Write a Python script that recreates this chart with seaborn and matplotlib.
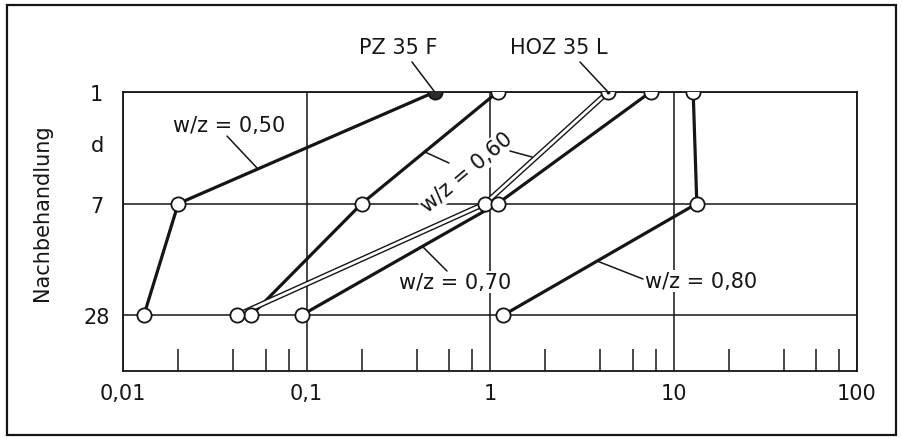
import numpy as np
import pandas as pd
import matplotlib
matplotlib.use("Agg")
import matplotlib.pyplot as plt
import matplotlib.ticker as mticker
from matplotlib.patches import Rectangle
import seaborn as sns

# ── Data ───────────────────────────────────────────────────────────────────
days = [1, 7, 28]                       # Nachbehandlung (d)
day_labels = ["1", "7", "28"]
x_ticks = [0.01, 0.1, 1, 10, 100]
x_tick_labels = ["0,01", "0,1", "1", "10", "100"]

pz35f_050 = [0.5, 0.02, 0.013]          # PZ 35 F, w/z = 0,50
wz_060 = [1.1, 0.2, 0.05]
hoz35l = [4.4, 0.94, 0.042]             # HOZ 35 L
wz_070 = [7.5, 1.1, 0.094]
wz_080 = [12.8, 13.4, 1.18]

INK = "#151515"
FONT = ["DejaVu Sans"]
FS = 15

sns.set_style("white")
plt.rcParams["font.family"] = FONT

pos = list(range(len(days)))

fig = plt.figure(figsize=(9.02, 4.39), dpi=100)
ax = fig.add_axes([123 / 902, 1 - 372 / 439, 734 / 902, 279 / 439])

# ── Lines ──────────────────────────────────────────────────────────────────
for series in (pz35f_050, wz_060, wz_070, wz_080):
    sns.lineplot(x=series, y=pos, ax=ax, sort=False, estimator=None,
                 color=INK, linewidth=2.3, zorder=3)
# double line for HOZ 35 L
sns.lineplot(x=hoz35l, y=pos, ax=ax, sort=False, estimator=None,
             color=INK, linewidth=4.0, zorder=3)
sns.lineplot(x=hoz35l, y=pos, ax=ax, sort=False, estimator=None,
             color="white", linewidth=2.0, zorder=3.1)

# ── Markers ────────────────────────────────────────────────────────────────
open_x = pz35f_050[1:] + wz_060 + hoz35l + wz_070 + wz_080
open_y = pos[1:] + pos + pos + pos + pos
sns.scatterplot(x=open_x, y=open_y, ax=ax, s=105, marker="o",
                facecolor="white", edgecolor=INK, linewidth=1.3, zorder=5)
sns.scatterplot(x=pz35f_050[:1], y=pos[:1], ax=ax, s=105, marker="o",
                facecolor="#2a2a2a", edgecolor=INK, linewidth=1.3, zorder=6)
sns.scatterplot(x=hoz35l[:1], y=pos[:1], ax=ax, s=8, marker="o",
                facecolor=INK, edgecolor=INK, linewidth=0, zorder=6)

# ── Axes ───────────────────────────────────────────────────────────────────
ax.set_xscale("log")
ax.set_xlim(0.01, 100)
ax.set_ylim(2.5, 0)
ax.set_xticks(x_ticks)
ax.set_xticklabels(x_tick_labels)
ax.xaxis.set_minor_locator(mticker.LogLocator(base=10, subs=[2, 4, 6, 8]))
ax.xaxis.set_minor_formatter(mticker.NullFormatter())
ax.set_yticks(pos)
ax.set_yticklabels(day_labels)
for lab in ax.get_yticklabels():
    lab.set_horizontalalignment("center")

ax.grid(which="major", color=INK, linewidth=1.1, zorder=1)
ax.set_axisbelow(True)
ax.tick_params(which="major", length=0, labelsize=FS, colors=INK)
ax.tick_params(axis="x", which="major", pad=9)
ax.tick_params(axis="y", which="major", pad=19)
ax.tick_params(axis="x", which="minor", direction="in", length=16,
               width=1.1, color=INK, bottom=True, top=False)
for sp in ax.spines.values():
    sp.set_color(INK)
    sp.set_linewidth(1.3)

ax.set_xlabel("")
ax.set_ylabel("Nachbehandlung", fontsize=FS, color=INK)
ax.yaxis.set_label_coords(-0.0967, 0.57)
ax.text(-0.0354, 0.81, "d", transform=ax.transAxes, ha="center", va="center",
        fontsize=FS, color=INK)

# ── Labels with leader lines ───────────────────────────────────────────────
box = dict(facecolor="white", edgecolor="none", pad=1)
leader = dict(arrowstyle="-", color=INK, linewidth=1.1, shrinkA=0, shrinkB=0)

def label(txt, xy, rot=0):
    ax.text(xy[0], xy[1], txt, transform=ax.transAxes, ha="center",
            va="center", fontsize=FS, color=INK, rotation=rot,
            bbox=box, zorder=4, clip_on=False)

def lead(a, b, coords="axes fraction"):
    ax.annotate("", xy=b, xycoords=coords, xytext=a,
                textcoords="axes fraction", arrowprops=leader,
                zorder=4, annotation_clip=False)

label("w/z = 0,50", (0.1444, 0.882))
lead((0.1417, 0.842), (0.1826, 0.7276))

label("w/z = 0,60", (0.4687, 0.7133), rot=40)
lead((0.4441, 0.7455), (0.4114, 0.785))
lead((0.5272, 0.7885), (0.5572, 0.767))

label("w/z = 0,70", (0.4523, 0.319))
lead((0.4414, 0.3584), (0.4087, 0.4444))

label("w/z = 0,80", (0.7875, 0.3226))
lead((0.7084, 0.3297), (0.6458, 0.3943))

label("PZ 35 F", (0.3747, 1.1613))
lead((0.3937, 1.1075), (pz35f_050[0], pos[0]), coords="data")

label("HOZ 35 L", (0.594, 1.1613))
lead((0.6226, 1.1075), (hoz35l[0], pos[0]), coords="data")

# outer frame
fig.patches.append(Rectangle((7 / 902, 3 / 439), 889 / 902, 430 / 439,
                             transform=fig.transFigure, fill=False,
                             edgecolor=INK, linewidth=1.6))

fig.savefig("out.png", dpi=100, facecolor="white")
